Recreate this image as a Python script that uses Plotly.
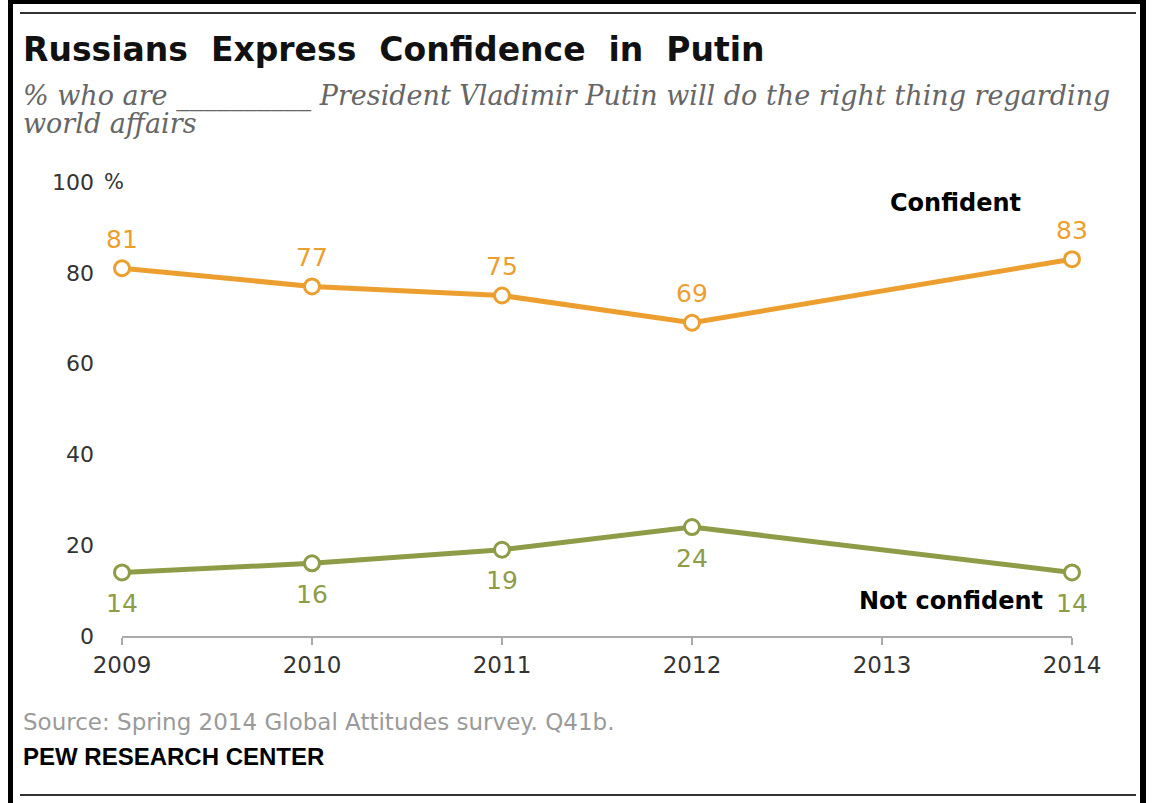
import plotly.graph_objects as go

years = [2009, 2010, 2011, 2012, 2014]
confident = [81, 77, 75, 69, 83]
not_confident = [14, 16, 19, 24, 14]
x_ticks = [2009, 2010, 2011, 2012, 2013, 2014]
y_ticks = [0, 20, 40, 60, 80, 100]

ORANGE = "#EC9F2F"
GREEN = "#8E9B47"

W, H = 1152, 803
ML, MR, MT, MB = 122, 80, 182, 167
PW, PH = W - ML - MR, H - MT - MB


def xp(px):
    return (px - ML) / PW


def yp(py):
    return (H - MB - py) / PH


fig = go.Figure()
fig.add_trace(go.Scatter(
    x=years, y=confident, mode="lines+markers", cliponaxis=False,
    line=dict(color=ORANGE, width=5),
    marker=dict(size=15, color="white", line=dict(color=ORANGE, width=3)),
    hoverinfo="skip", showlegend=False))
fig.add_trace(go.Scatter(
    x=years, y=not_confident, mode="lines+markers", cliponaxis=False,
    line=dict(color=GREEN, width=5),
    marker=dict(size=15, color="white", line=dict(color=GREEN, width=3)),
    hoverinfo="skip", showlegend=False))

ann = []
for xv, yv in zip(years, confident):
    ann.append(dict(x=xv, y=yv, xref="x", yref="y", text=str(yv), showarrow=False,
                    yshift=29, font=dict(family="DejaVu Sans", size=25, color=ORANGE)))
for xv, yv in zip(years, not_confident):
    ann.append(dict(x=xv, y=yv, xref="x", yref="y", text=str(yv), showarrow=False,
                    yshift=-31, font=dict(family="DejaVu Sans", size=25, color=GREEN)))

ann += [
    dict(x=xp(21), y=yp(49), xref="paper", yref="paper", xanchor="left", yanchor="middle",
         text="<b>Russians  Express  Confidence  in  Putin</b>", showarrow=False,
         font=dict(family="DejaVu Sans", size=33, color="#111")),
    dict(x=xp(21), y=yp(96), xref="paper", yref="paper", xanchor="left", yanchor="middle",
         text="<i>% who are __________ President Vladimir Putin will do the right thing regarding</i>",
         showarrow=False, font=dict(family="DejaVu Serif", size=27, color="#666")),
    dict(x=xp(21), y=yp(124), xref="paper", yref="paper", xanchor="left", yanchor="middle",
         text="<i>world affairs</i>",
         showarrow=False, font=dict(family="DejaVu Serif", size=27, color="#666")),
    dict(x=xp(102), y=100, xref="paper", yref="y", xanchor="left", yanchor="middle",
         text="%", showarrow=False, font=dict(family="DejaVu Sans", size=21, color="#333")),
    dict(x=xp(1023), y=yp(203), xref="paper", yref="paper", xanchor="right", yanchor="middle",
         text="<b>Confident</b>", showarrow=False,
         font=dict(family="DejaVu Sans", size=24, color="#000")),
    dict(x=xp(1045), y=yp(601), xref="paper", yref="paper", xanchor="right", yanchor="middle",
         text="<b>Not confident</b>", showarrow=False,
         font=dict(family="DejaVu Sans", size=24, color="#000")),
    dict(x=xp(21), y=yp(722), xref="paper", yref="paper", xanchor="left", yanchor="middle",
         text="Source: Spring 2014 Global Attitudes survey. Q41b.", showarrow=False,
         font=dict(family="DejaVu Sans", size=23, color="#9a9a9a")),
    dict(x=xp(21), y=yp(756), xref="paper", yref="paper", xanchor="left", yanchor="middle",
         text="<b>PEW RESEARCH CENTER</b>", showarrow=False,
         font=dict(family="Liberation Sans", size=24, color="#000")),
]

shapes = [
    # outer frame
    dict(type="rect", xref="paper", yref="paper", x0=xp(8), x1=xp(13), y0=yp(0), y1=yp(H),
         fillcolor="black", line=dict(width=0), layer="above"),
    dict(type="rect", xref="paper", yref="paper", x0=xp(1140), x1=xp(1146), y0=yp(0), y1=yp(H),
         fillcolor="black", line=dict(width=0), layer="above"),
    dict(type="rect", xref="paper", yref="paper", x0=xp(8), x1=xp(1146), y0=yp(0), y1=yp(4),
         fillcolor="black", line=dict(width=0), layer="above"),
    # inner rules
    dict(type="line", xref="paper", yref="paper", x0=xp(20), x1=xp(1136), y0=yp(13), y1=yp(13),
         line=dict(color="#333", width=2)),
    dict(type="line", xref="paper", yref="paper", x0=xp(20), x1=xp(1136), y0=yp(795), y1=yp(795),
         line=dict(color="#333", width=2)),
]

fig.update_layout(
    width=W, height=H,
    margin=dict(l=ML, r=MR, t=MT, b=MB),
    paper_bgcolor="white", plot_bgcolor="white",
    annotations=ann, shapes=shapes,
    xaxis=dict(range=[2009, 2014], tickvals=x_ticks, ticktext=[str(v) for v in x_ticks],
               showgrid=False, zeroline=False, showline=True, linecolor="#aaaaaa", linewidth=2,
               ticks="outside", ticklen=7, tickwidth=2, tickcolor="#aaaaaa",
               ticklabelstandoff=0,
               tickfont=dict(family="DejaVu Sans", size=23, color="#333")),
    yaxis=dict(range=[0, 100], tickvals=y_ticks, ticktext=[str(v) for v in y_ticks],
               showgrid=False, zeroline=False, showline=False, ticks="",
               ticklabelstandoff=27,
               tickfont=dict(family="DejaVu Sans", size=22, color="#333")),
)

fig.write_html("out.html", config={"displayModeBar": False},
               post_script="document.body.style.margin='0';document.body.style.padding='0';")
